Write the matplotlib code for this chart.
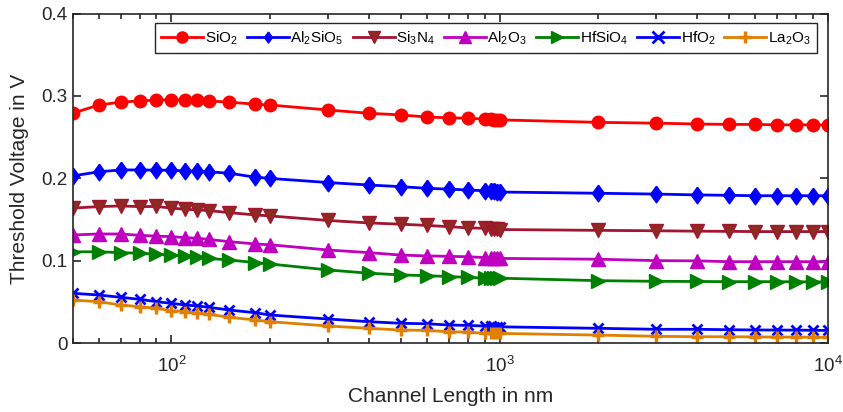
import matplotlib.pyplot as plt

plt.rcParams['font.family'] = ['Liberation Sans', 'DejaVu Sans']

# channel length (nm)
x = [50, 60, 70, 80, 90, 100, 110, 120, 130, 150, 180, 200, 300, 400, 500, 600, 700,
     800, 900, 940, 960, 980, 1000, 2000, 3000, 4000, 5000, 6000, 7000, 8000, 9000, 10000]

sio2 = [0.279, 0.289, 0.2925, 0.294, 0.295, 0.2955, 0.295, 0.2945, 0.294, 0.2925, 0.290, 0.289,
        0.283, 0.279, 0.277, 0.2745, 0.2735, 0.273, 0.272, 0.2715, 0.2713, 0.2712, 0.271,
        0.268, 0.267, 0.266, 0.2655, 0.2655, 0.265, 0.265, 0.265, 0.2646]
al2sio5 = [0.203, 0.208, 0.2103, 0.2103, 0.210, 0.210, 0.209, 0.209, 0.208, 0.2063, 0.2015, 0.200,
           0.195, 0.192, 0.190, 0.188, 0.187, 0.186, 0.185, 0.1845, 0.1843, 0.184, 0.1835,
           0.182, 0.181, 0.180, 0.1795, 0.179, 0.179, 0.179, 0.179, 0.179]
si3n4 = [0.164, 0.1658, 0.1666, 0.1658, 0.166, 0.164, 0.1626, 0.1618, 0.161, 0.1585, 0.1557, 0.1545,
         0.149, 0.146, 0.1445, 0.143, 0.1415, 0.140, 0.1395, 0.139, 0.1388, 0.1385, 0.138,
         0.137, 0.1365, 0.136, 0.1358, 0.1355, 0.1355, 0.1355, 0.1355, 0.1355]
al2o3 = [0.1314, 0.1326, 0.1326, 0.131, 0.130, 0.1294, 0.1282, 0.1274, 0.126, 0.1233, 0.1205, 0.1195,
         0.1132, 0.110, 0.107, 0.106, 0.1055, 0.105, 0.104, 0.1035, 0.1033, 0.103, 0.103,
         0.102, 0.1003, 0.100, 0.099, 0.099, 0.099, 0.099, 0.099, 0.099]
hfsio4 = [0.111, 0.111, 0.110, 0.1092, 0.108, 0.107, 0.106, 0.1044, 0.103, 0.101, 0.098, 0.0962,
          0.089, 0.085, 0.083, 0.082, 0.081, 0.080, 0.079, 0.079, 0.079, 0.079, 0.079,
          0.076, 0.0752, 0.075, 0.0748, 0.0748, 0.0747, 0.0746, 0.0745, 0.0745]
hfo2 = [0.0607, 0.0586, 0.0558, 0.0534, 0.0505, 0.0485, 0.0465, 0.0453, 0.0437, 0.0404, 0.0371, 0.0343,
        0.0295, 0.0262, 0.0243, 0.0237, 0.0222, 0.0217, 0.021, 0.0205, 0.0203, 0.0201, 0.020,
        0.0182, 0.017, 0.017, 0.0165, 0.0162, 0.0161, 0.016, 0.0158, 0.0156]
la2o3 = [0.0525, 0.0505, 0.0465, 0.0444, 0.0425, 0.0396, 0.0384, 0.0364, 0.0352, 0.0316, 0.0283, 0.0262,
         0.021, 0.0182, 0.0161, 0.0157, 0.014, 0.0136, 0.012, 0.012, 0.012, 0.012, 0.012,
         0.010, 0.0085, 0.008, 0.008, 0.0078, 0.0076, 0.0075, 0.0074, 0.0073]

labels = [r'SiO$\mathregular{_2}$', r'Al$\mathregular{_2}$SiO$\mathregular{_5}$',
          r'Si$\mathregular{_3}$N$\mathregular{_4}$', r'Al$\mathregular{_2}$O$\mathregular{_3}$',
          r'HfSiO$\mathregular{_4}$', r'HfO$\mathregular{_2}$', r'La$\mathregular{_2}$O$\mathregular{_3}$']

# matlab-like diamond (wider than mpl 'd')
diamond = [(0, 1), (0.72, 0), (0, -1), (-0.72, 0), (0, 1)]

fig = plt.figure(figsize=(8.43, 4.12), dpi=100)
ax = fig.add_axes([0.0862, 0.1667, 0.8958, 0.8005])

ax.plot(x, sio2, '-o', color='#ff0000', lw=2, ms=9, label=labels[0])
ax.plot(x, al2sio5, '-', marker=diamond, color='#0000ff', lw=2, ms=12, label=labels[1])
ax.plot(x, si3n4, '-v', color='#a2142f', mfc='#8e2a22', mec='#a2142f', lw=2, ms=10, label=labels[2])
ax.plot(x, al2o3, '-^', color='#c000c0', lw=2, ms=10, label=labels[3])
ax.plot(x, hfsio4, '->', color='#008000', lw=2, ms=10, label=labels[4])
ax.plot(x, hfo2, '-x', color='#0000ff', lw=2, ms=7, mew=2, label=labels[5])
ax.plot(x, la2o3, '-+', color='#e07f00', lw=2, ms=9, mew=2.5, label=labels[6])

ax.set_xscale('log')
ax.set_xlim(50, 1e4)
ax.set_ylim(0, 0.4)
ax.set_yticks([0, 0.1, 0.2, 0.3, 0.4])
ax.set_yticklabels(['0', '0.1', '0.2', '0.3', '0.4'])
ax.tick_params(which='both', direction='in', top=True, right=True, colors='#262626',
               labelsize=13.5, width=1.2)
ax.tick_params(which='major', length=6)
ax.tick_params(which='minor', length=3.5)
ax.tick_params(axis='x', which='major', pad=9)
for s in ax.spines.values():
    s.set_color('#262626')
    s.set_linewidth(1.2)

ax.set_xlabel('Channel Length in nm', fontsize=15, color='#262626', labelpad=8)
ax.set_ylabel('Threshold Voltage in V', fontsize=15, color='#262626', labelpad=9)

leg = ax.legend(ncol=7, loc='upper right', bbox_to_anchor=(0.9855, 0.971), borderaxespad=0,
                fontsize=11, handlelength=2.75, handletextpad=0.1, columnspacing=0.6,
                borderpad=0.4, fancybox=False, framealpha=1, edgecolor='#262626')
for h in leg.legend_handles:
    h.set_markersize(8)
leg.get_frame().set_linewidth(1.0)

fig.savefig('out.png', dpi=100)
